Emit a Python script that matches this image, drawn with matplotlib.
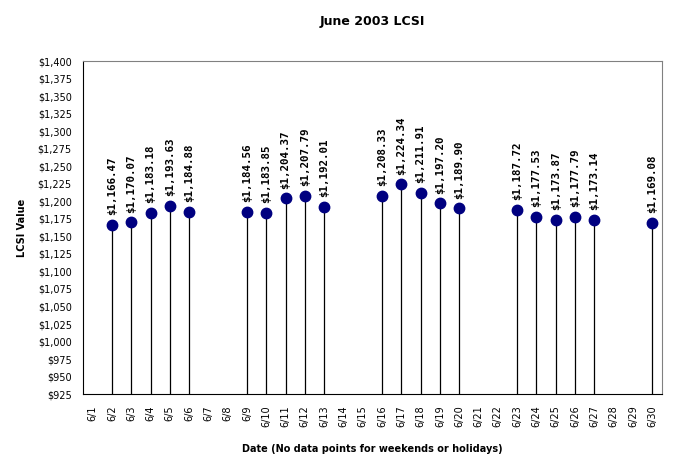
import matplotlib.pyplot as plt
import numpy as np
from matplotlib.ticker import FuncFormatter

# trading days in June 2003 and closing values
days = [2, 3, 4, 5, 6, 9, 10, 11, 12, 13, 16, 17, 18, 19, 20, 23, 24, 25, 26, 27, 30]
values = [1166.47, 1170.07, 1183.18, 1193.63, 1184.88,
          1184.56, 1183.85, 1204.37, 1207.79, 1192.01,
          1208.33, 1224.34, 1211.91, 1197.20, 1189.90,
          1187.72, 1177.53, 1173.87, 1177.79, 1173.14,
          1169.08]
all_days = list(range(1, 31))
day_labels = ['6/%d' % d for d in all_days]

fig = plt.figure(figsize=(6.83, 4.67), dpi=100)
ax = fig.add_axes([0.1215, 0.156, 0.8475, 0.713])

ymin, ymax = 925, 1400
x = np.array(days) - 1  # category index

ax.vlines(x, ymin, values, color='black', lw=0.9, zorder=2)
ax.plot(x, values, 'o', color='#000080', ms=7.5, zorder=3)

for xi, v in zip(x, values):
    ax.annotate('${:,.2f}'.format(v), (xi, v), xytext=(0, 7), textcoords='offset points',
                rotation=90, ha='center', va='bottom', fontsize=7.8, fontweight='bold',
                family='DejaVu Sans Mono')

ax.set_xlim(-0.5, 29.5)
ax.set_ylim(ymin, ymax)
ax.set_yticks(np.arange(925, 1401, 25))
ax.yaxis.set_major_formatter(FuncFormatter(lambda v, p: '${:,.0f}'.format(v)))
ax.set_xticks(range(30))
ax.set_xticklabels(day_labels, rotation=90, fontsize=7)
ax.tick_params(axis='y', length=0, labelsize=7, pad=8)
ax.tick_params(axis='x', length=0, pad=8)

ax.spines['top'].set_color('#808080')
ax.spines['right'].set_color('#808080')
ax.spines['left'].set_color('black')
ax.spines['bottom'].set_color('black')

ax.set_title('June 2003 LCSI', fontsize=9, fontweight='bold', pad=26)
ax.set_ylabel('LCSI Value', fontsize=7, fontweight='bold', labelpad=8)
ax.set_xlabel('Date (No data points for weekends or holidays)', fontsize=7,
              fontweight='bold', labelpad=12)

fig.savefig('out.png', dpi=100)
